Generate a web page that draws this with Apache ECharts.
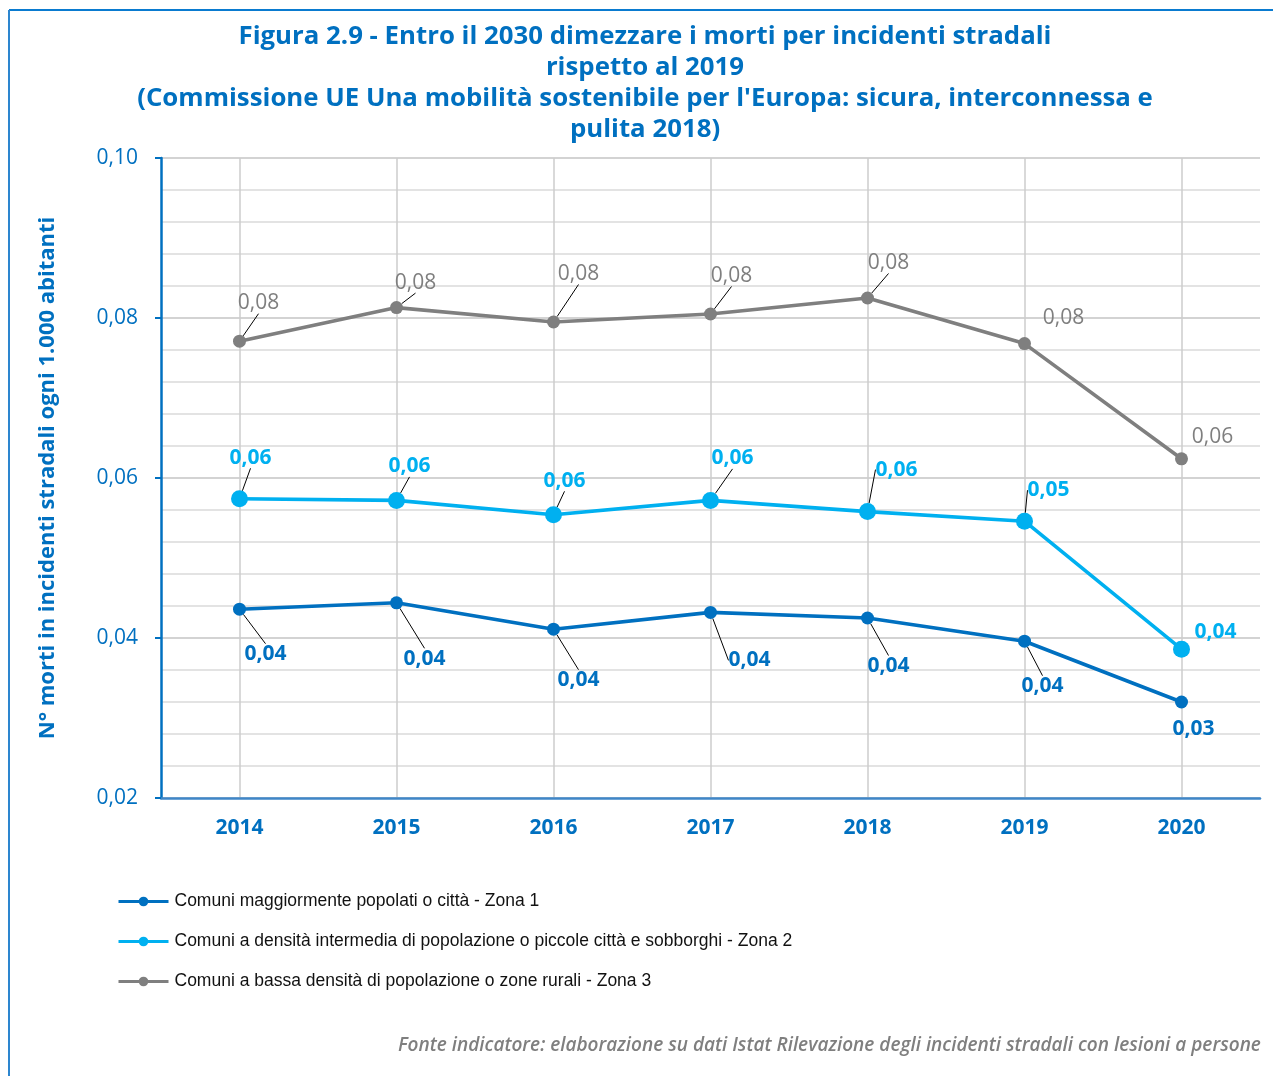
<!DOCTYPE html>
<html>
<head>
<meta charset="utf-8">
<script src="https://cdn.jsdelivr.net/npm/echarts@6/dist/echarts.min.js"></script>
<style>
html,body{margin:0;padding:0;background:#fff;}
#chart{width:1273px;height:1076px;}
</style>
</head>
<body>
<div id="chart"></div>
<script>
// ---- Data ----
const years = ['2014', '2015', '2016', '2017', '2018', '2019', '2020'];
const seriesNames = [
  'Comuni maggiormente popolati o città - Zona 1',
  'Comuni a densità intermedia di popolazione o piccole città e sobborghi - Zona 2',
  'Comuni a bassa densità di popolazione o zone rurali - Zona 3'
];
const zona1 = [0.0436, 0.0444, 0.0411, 0.0432, 0.0425, 0.0396, 0.0320];
const zona2 = [0.0574, 0.0572, 0.0554, 0.0572, 0.0558, 0.0546, 0.0386];
const zona3 = [0.0771, 0.0813, 0.0795, 0.0805, 0.0825, 0.0768, 0.0624];
const yTicks = [0.02, 0.04, 0.06, 0.08, 0.10];

const titleText = 'Figura 2.9 - Entro il 2030 dimezzare i morti per incidenti stradali\nrispetto al 2019\n(Commissione UE Una mobilità sostenibile per l\'Europa: sicura, interconnessa e\npulita 2018)';
const yAxisName = 'N° morti in incidenti stradali ogni 1.000 abitanti';
const sourceText = 'Fonte indicatore: elaborazione su dati Istat Rilevazione degli incidenti stradali con lesioni a persone';

// ---- Styles (label offsets / leader lines) ----
const labelOffsets = [
  [[26,45],[28,56],[25,51],[39,48],[21,48],[18,45],[12,27]],
  [[11,-41],[13,-34],[11,-34],[22,-42],[29,-42],[24,-31],[34,-17]],
  [[19,-38],[19,-25],[25,-48],[21,-38],[21,-35],[39,-26],[31,-22]]
];
const leaderFlags = [
  [1,1,1,1,1,1,0],
  [1,1,1,1,1,1,0],
  [1,1,1,1,1,0,0]
];
const colors = ['#0070C0', '#00B0F0', '#7F7F7F'];
const symbolSizes = [13, 17, 13];
const labelWeights = ['bold', 'bold', 'normal'];

const fmt = v => (Math.round(v * 100) / 100).toFixed(2).replace('.', ',');

const allData = [zona1, zona2, zona3];
const series = allData.map((arr, si) => ({
  name: seriesNames[si],
  type: 'line',
  xAxisIndex: 0,
  yAxisIndex: 0,
  data: arr.map((v, i) => ({ value: v, labelLine: { show: !!leaderFlags[si][i] } })),
  symbol: 'circle',
  symbolSize: symbolSizes[si],
  color: colors[si],
  lineStyle: { width: 3.6, color: colors[si] },
  itemStyle: { color: colors[si] },
  z: 10 - si,
  label: {
    show: true,
    position: 'inside',
    formatter: p => fmt(p.value),
    color: colors[si],
    fontFamily: 'Open Sans',
    fontWeight: labelWeights[si],
    fontSize: 21
  },
  labelLine: { show: true, lineStyle: { color: '#000', width: 1 }, length2: 0 },
  labelLayout: p => ({ dx: labelOffsets[si][p.dataIndex][0], dy: labelOffsets[si][p.dataIndex][1] }),
  animation: false
}));

const chart = echarts.init(document.getElementById('chart'), null, { renderer: 'canvas' });
chart.setOption({
  animation: false,
  backgroundColor: '#fff',
  title: {
    text: titleText,
    left: 640,
    textAlign: 'center',
    top: 16,
    textStyle: { color: '#0070C0', fontFamily: 'Open Sans', fontWeight: 'bold', fontSize: 25.8, lineHeight: 31 }
  },
  grid: { left: 161, right: 13, top: 158, bottom: 278, containLabel: false },
  xAxis: [
    {
      type: 'category',
      data: years,
      boundaryGap: true,
      axisLine: { lineStyle: { color: '#3F86C8', width: 2.5 } },
      axisTick: { show: false },
      splitLine: { show: false },
      axisLabel: { color: '#0070C0', fontFamily: 'Open Sans', fontWeight: 'bold', fontSize: 21, margin: 20 }
    },
    {
      type: 'value',
      min: 0, max: 14, interval: 1,
      show: true,
      position: 'top',
      axisLine: { show: false },
      axisTick: { show: false },
      axisLabel: { show: false },
      splitLine: { show: true, lineStyle: { color: ['rgba(0,0,0,0)', '#cccccc'], width: 1.5 } }
    }
  ],
  yAxis: {
    type: 'value',
    min: yTicks[0], max: yTicks[yTicks.length - 1], interval: 0.02,
    name: yAxisName,
    nameLocation: 'middle',
    nameGap: 102,
    nameTextStyle: { color: '#0070C0', fontFamily: 'Open Sans', fontWeight: 'bold', fontSize: 22 },
    axisLine: { show: true, lineStyle: { color: '#0070C0', width: 2.5 } },
    axisTick: { show: true, length: 6, lineStyle: { color: '#0070C0', width: 2 } },
    axisLabel: { color: '#0070C0', fontFamily: 'Open Sans', fontSize: 21, margin: 23, formatter: v => v.toFixed(2).replace('.', ',') },
    splitLine: { show: true, lineStyle: { color: '#c4c4c4', width: 1.5 } },
    minorTick: { show: false, splitNumber: 5 },
    minorSplitLine: { show: true, lineStyle: { color: '#dadada', width: 1.5 } }
  },
  legend: {
    orient: 'vertical',
    left: 112,
    top: 886,
    itemWidth: 50,
    itemHeight: 12,
    itemGap: 19,
    data: seriesNames,
    lineStyle: { width: 3 },
    textStyle: { color: '#111', fontFamily: '"Liberation Sans Narrow", "Liberation Sans", Arial, sans-serif', fontSize: 17.5, lineHeight: 21, padding: [0, 0, 0, 1] }
  },
  graphic: [
    { type: 'line', shape: { x1: 9, y1: 10, x2: 1273, y2: 10 }, style: { stroke: '#0A7BD0', lineWidth: 2 } },
    { type: 'line', shape: { x1: 9, y1: 10, x2: 9, y2: 1076 }, style: { stroke: '#2D86CF', lineWidth: 2 } },
    { type: 'text', left: 398, top: 1036, style: { text: sourceText, fill: '#7F7F7F', font: 'italic 600 19px "Open Sans"' } }
  ],
  series: series
});
</script>
</body>
</html>
